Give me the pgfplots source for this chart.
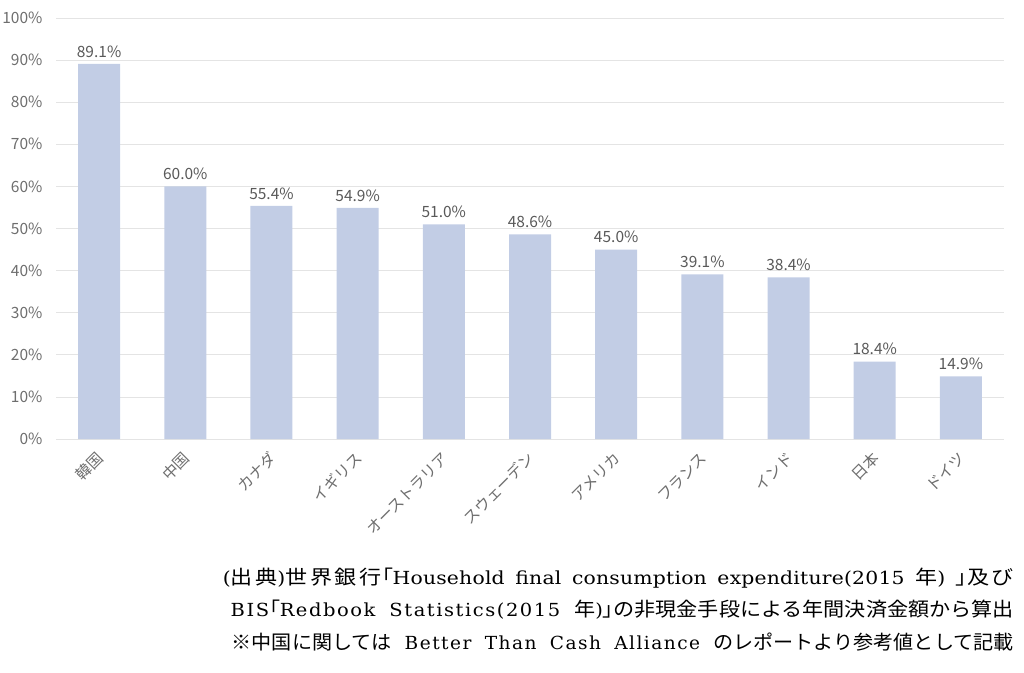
\documentclass[border=0pt]{standalone}
\usepackage{fontspec}
\usepackage{graphicx}
\usepackage{pgfplots}
\pgfplotsset{compat=1.18}
\newfontfamily\cjk{Noto Sans CJK JP}
\newfontfamily\cjkp[RawFeature=+palt]{Noto Sans CJK JP}
\newfontfamily\cjks[LetterSpace=12]{Noto Sans CJK JP}
\newfontfamily\latf[LetterSpace=8,WordSpace=1.8]{DejaVu Serif}
\newfontfamily\latn[LetterSpace=1,WordSpace=1.6]{DejaVu Serif}
\newcommand\cj{\cjk\fontsize{19.5}{22}\selectfont}
\newcommand\cjs{\cjks\fontsize{19.5}{22}\selectfont}
\newcommand\cjp{\cjkp\fontsize{19.5}{22}\selectfont}
\newcommand\lat{\latf\fontsize{18}{22}\selectfont}
\newcommand\latb{\latn\fontsize{18}{22}\selectfont}
\newcommand\fitline[2]{\resizebox{#1}{\height}{#2}}
\definecolor{barcol}{RGB}{194,205,229}
\definecolor{txtgray}{RGB}{89,89,89}
\definecolor{lblgray}{RGB}{110,110,110}
\definecolor{gridgray}{RGB}{228,228,228}

\begin{document}
\begin{tikzpicture}
\useasboundingbox (0,0) rectangle (1024pt,672pt);
\begin{axis}[
    at={(56pt,233pt)}, anchor=south west,
    scale only axis, width=948pt, height=421pt,
    xmin=-0.5, xmax=10.5,
    ymin=0, ymax=100,
    ybar, bar width=42pt,
    axis line style={draw=none},
    major tick length=0pt,
    /pgf/number format/assume math mode=true,
    xtick={0,1,2,3,4,5,6,7,8,9,10},
    xticklabels={韓国,中国,カナダ,イギリス,オーストラリア,スウェーデン,アメリカ,フランス,インド,日本,ドイツ},
    ytick={0,10,20,30,40,50,60,70,80,90,100},
    yticklabel={\pgfmathprintnumber{\tick}\%},
    ymajorgrids=true,
    grid style={gridgray, line width=0.8pt},
    ticklabel style={font=\cjk\fontsize{15.5}{17}\selectfont, text=lblgray},
    yticklabel style={anchor=east, xshift=-10pt},
    xticklabel style={font=\cjk\fontsize{15.5}{17}\selectfont, xshift=4pt, yshift=-14pt, rotate=45, anchor=east},
    nodes near coords={\pgfmathprintnumber[fixed,fixed zerofill,precision=1]{\pgfplotspointmeta}\%},
    every node near coord/.append style={font=\cjk\fontsize{15.5}{17}\selectfont, text=txtgray, yshift=3pt},
]
\addplot[fill=barcol, draw=none] coordinates {
    (0,89.1) (1,60.0) (2,55.4) (3,54.9) (4,51.0) (5,48.6)
    (6,45.0) (7,39.1) (8,38.4) (9,18.4) (10,14.9)
};
\end{axis}
\begin{scope}[every node/.style={anchor=east, inner sep=0pt}]
\node at (1014pt,94pt) {\fitline{791pt}{{\latb(}\cjs 出典{\latb)}\cjs 世界銀行{\cjp「}{\latb Household final consumption expenditure(2015 }\cjs 年{\latb)\ }{\cjp」}\cjs 及び}};
\node at (1014pt,62pt) {\fitline{783pt}{{\lat BIS}{\cjp「}{\lat Redbook Statistics(2015 }\cj 年{\lat)}{\cjp」}\cj の非現金手段による年間決済金額から算出}};
\node at (1014pt,30pt) {\fitline{782pt}{\cj ※中国に関しては{\lat\ Better Than Cash Alliance }\cj のレポートより参考値として記載}};
\end{scope}
\end{tikzpicture}
\end{document}
